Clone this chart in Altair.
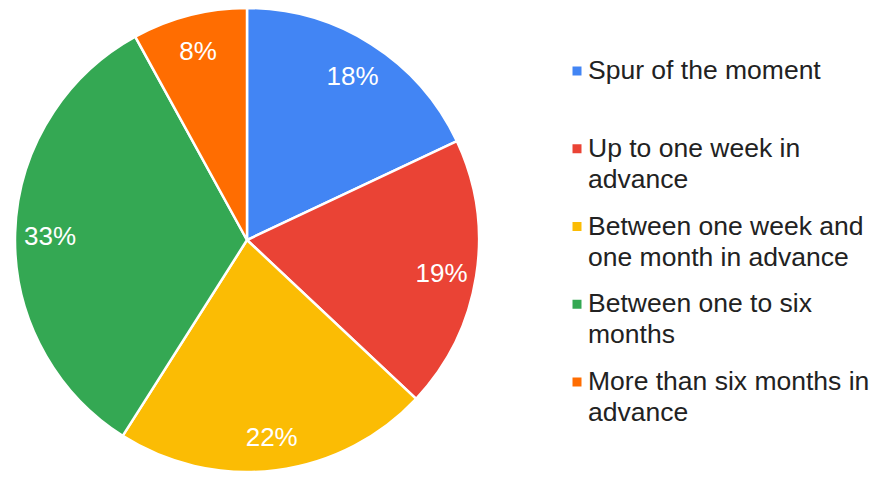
import altair as alt
import pandas as pd

categories = [
    "Spur of the moment",
    "Up to one week in advance",
    "Between one week and one month in advance",
    "Between one to six months",
    "More than six months in advance",
]
values = [18, 19, 22, 33, 8]
legend_lines = [
    ["Spur of the moment"],
    ["Up to one week in", "advance"],
    ["Between one week and", "one month in advance"],
    ["Between one to six", "months"],
    ["More than six months in", "advance"],
]
colors = ["#4285F4", "#EA4335", "#FBBC04", "#34A853", "#FF6D01"]

df = pd.DataFrame({
    "category": categories,
    "value": values,
    "order": list(range(len(categories))),
    "label": [f"{v}%" for v in values],
    "lines": legend_lines,
})

color = alt.Color("category:N", scale=alt.Scale(domain=categories, range=colors), legend=None)
CX, CY, R = 239, 232, 232

base = alt.Chart(df)

pie = base.mark_arc(radius=R, stroke="white", strokeWidth=2.5).encode(
    theta=alt.Theta("value:Q", stack=True),
    order=alt.Order("order:Q"),
    color=color,
    x=alt.value(CX),
    y=alt.value(CY),
)

labels = base.mark_text(
    radius=197, font="Liberation Sans", fontSize=26, color="white",
    align="center", baseline="middle", dy=3,
).encode(
    theta=alt.Theta("value:Q", stack=True),
    order=alt.Order("order:Q"),
    text="label:N",
    x=alt.value(CX),
    y=alt.value(CY),
)

yscale = alt.Scale(domain=[0, 4], range=[63, 374])

swatches = base.mark_square(size=81, opacity=1, filled=True).encode(
    x=alt.value(569),
    y=alt.Y("order:Q", scale=yscale, axis=None),
    color=color,
)

legend_text = base.mark_text(
    font="Liberation Sans", fontSize=26.5, color="#222222",
    align="left", baseline="middle", lineHeight=31,
).encode(
    x=alt.value(580),
    y=alt.Y("order:Q", scale=yscale, axis=None),
    text="lines",
)

chart = alt.layer(pie, labels, swatches, legend_text).properties(
    width=861, height=464, padding=0,
    autosize=alt.AutoSizeParams(type="none"),
).configure_view(stroke=None)

chart.save("out.html", embed_options={"renderer": "svg", "actions": False})
